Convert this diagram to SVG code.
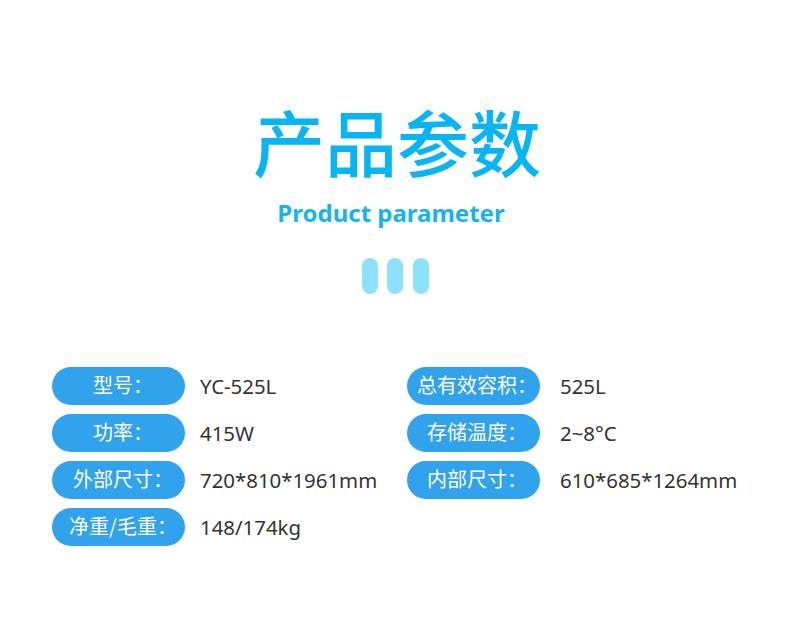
<svg xmlns="http://www.w3.org/2000/svg" width="790" height="642" viewBox="0 0 790 642">
<style>
.title{font-family:"Noto Sans CJK SC","Noto Sans",sans-serif;font-size:72px;font-weight:500;fill:#08b5f4;text-anchor:middle}
.sub{font-family:"Noto Sans","Noto Sans CJK SC",sans-serif;font-size:24px;font-weight:700;fill:#16b3f2;text-anchor:middle}
.dot{fill:#8ee1fc}
.pill{fill:#31a2ec}
.lab{font-family:"Noto Sans CJK SC","Noto Sans",sans-serif;font-size:20px;fill:#ffffff;text-anchor:middle}
.val{font-family:"Noto Sans","Noto Sans CJK SC",sans-serif;font-size:20.4px;font-weight:400;fill:#333333}
</style>
<rect width="790" height="642" fill="#ffffff"/>
<g id="header">
<text class="title" x="397" y="171">产品参数</text>
<text class="sub" x="391" y="222">Product parameter</text>
<rect class="dot" x="362" y="258" width="16" height="36" rx="8"/>
<rect class="dot" x="387" y="258" width="16" height="36" rx="8"/>
<rect class="dot" x="413" y="258" width="16" height="36" rx="8"/>
</g>
<g id="row-model">
<rect class="pill" x="52" y="367" width="133" height="38" rx="19"/>
<text class="lab" x="123" y="393">型号：</text>
<text class="val" x="200" y="394">YC-525L</text>
</g>
<g id="row-power">
<rect class="pill" x="52" y="414" width="133" height="38" rx="19"/>
<text class="lab" x="123" y="440">功率：</text>
<text class="val" x="200" y="441">415W</text>
</g>
<g id="row-outer">
<rect class="pill" x="52" y="461" width="133" height="38" rx="19"/>
<text class="lab" x="123" y="487">外部尺寸：</text>
<text class="val" x="200" y="488">720*810*1961mm</text>
</g>
<g id="row-weight">
<rect class="pill" x="52" y="508" width="133" height="38" rx="19"/>
<text class="lab" x="123" y="534">净重/毛重：</text>
<text class="val" x="200" y="535">148/174kg</text>
</g>
<g id="row-volume">
<rect class="pill" x="407" y="367" width="133" height="38" rx="19"/>
<text class="lab" x="477" y="393">总有效容积：</text>
<text class="val" x="560" y="394">525L</text>
</g>
<g id="row-temp">
<rect class="pill" x="407" y="414" width="133" height="38" rx="19"/>
<text class="lab" x="477" y="440">存储温度：</text>
<text class="val" x="560" y="441">2~8°C</text>
</g>
<g id="row-inner">
<rect class="pill" x="407" y="461" width="133" height="38" rx="19"/>
<text class="lab" x="477" y="487">内部尺寸：</text>
<text class="val" x="560" y="488">610*685*1264mm</text>
</g>
<g id="connectors"></g>
</svg>
